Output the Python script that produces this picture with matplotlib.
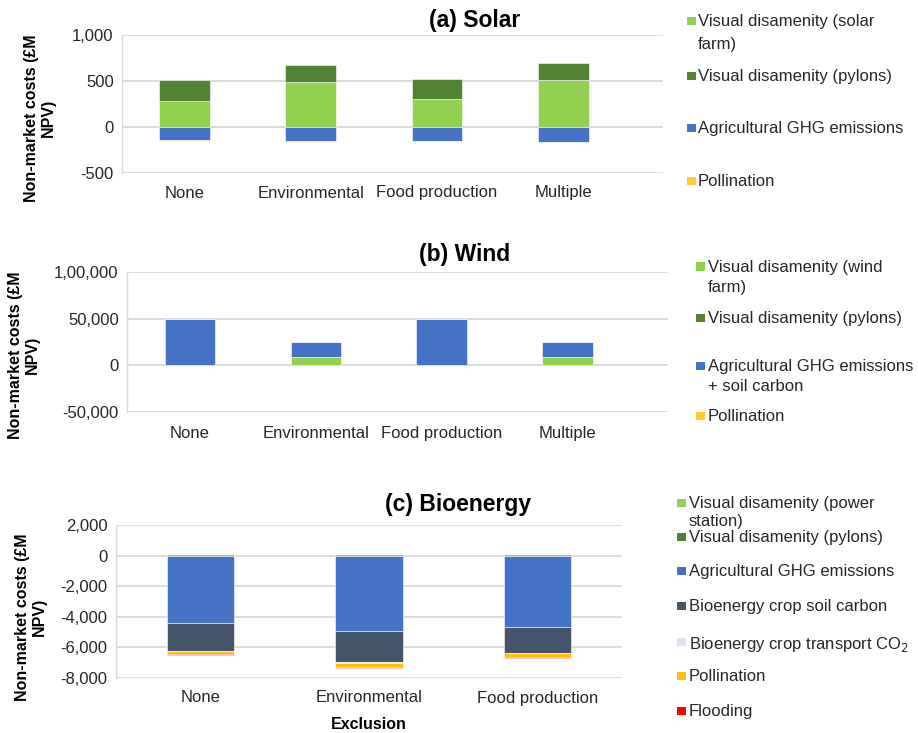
import numpy as np
import matplotlib.pyplot as plt
from matplotlib.patches import Rectangle

plt.rcParams['font.family'] = ['Liberation Sans', 'DejaVu Sans']

W, H = 918, 733

# colours used by the original Excel chart
c_vis = '#92D050'
c_pyl = '#548235'
c_agr = '#4472C4'
c_soil = '#44546A'
c_trans = '#DAE3F3'
c_pol = '#FFC000'
c_flood = '#FF0000'
txt_col = '#262626'

# (a) Solar, £M NPV
solar_cats = ['None', 'Environmental', 'Food production', 'Multiple']
solar_visual = [287, 486, 301, 507]
solar_pylons = [220, 184, 221, 189]
solar_agri = [-145, -155, -150, -158]
solar_poll = [-8, -5, -5, -8]
solar_ticks = [-500, 0, 500, 1000]
solar_ticklabels = ['-500', '0', '500', '1,000']

# (b) Wind, £M NPV
wind_cats = ['None', 'Environmental', 'Food production', 'Multiple']
wind_visual = [0, 8900, 0, 8800]
wind_pylons = [0, 0, 0, 0]
wind_agri = [49300, 15700, 49300, 15800]
wind_poll = [0, 0, 0, 0]
wind_ticks = [-50000, 0, 50000, 100000]
wind_ticklabels = ['-50,000', '0', '50,000', '1,00,000']

# (c) Bioenergy, £M NPV
bio_cats = ['None', 'Environmental', 'Food production']
bio_visual = [90, 90, 90]
bio_pylons = [10, 10, 10]
bio_agri = [-4435, -4930, -4650]
bio_soil = [-1775, -2030, -1700]
bio_trans = [-30, -30, -30]
bio_poll = [-220, -270, -240]
bio_flood = [-60, -60, -60]
bio_ticks = [-8000, -6000, -4000, -2000, 0, 2000]
bio_ticklabels = ['-8,000', '-6,000', '-4,000', '-2,000', '0', '2,000']


def fx(px):
    return px / W


def fy(py):
    return 1 - py / H


def stacked(ax, cats, series, colors, width):
    x = np.arange(len(cats))
    pos = np.zeros(len(cats))
    neg = np.zeros(len(cats))
    for vals, col in zip(series, colors):
        vals = np.array(vals, dtype=float)
        bottom = np.where(vals >= 0, pos, neg)
        ax.bar(x, vals, width, bottom=bottom, color=col,
               edgecolor='white', linewidth=0.4, zorder=3)
        pos += np.clip(vals, 0, None)
        neg += np.clip(vals, None, 0)
    ax.set_xticks(x)
    ax.set_xticklabels(cats)


def style(ax, ticks, labels, xlim, pad_x):
    ax.set_ylim(ticks[0], ticks[-1])
    ax.set_yticks(ticks)
    ax.set_yticklabels(labels)
    ax.set_xlim(*xlim)
    ax.grid(axis='y', color='#D9D9D9', linewidth=1.3, zorder=0)
    for s in ['top', 'right', 'bottom']:
        ax.spines[s].set_visible(False)
    ax.spines['left'].set_color('#D9D9D9')
    ax.spines['left'].set_linewidth(1.0)
    ax.tick_params(length=0, labelsize=12, labelcolor=txt_col)
    ax.tick_params(axis='y', pad=6)
    ax.tick_params(axis='x', pad=pad_x)


def legend(fig, entries, hx, tx, ls):
    # entries: (label, colour, y of first text line in px)
    for label, col, y in entries:
        fig.patches.append(Rectangle((fx(hx), fy(y + 3)), 8.5 / W, 8.5 / H,
                                     transform=fig.transFigure,
                                     facecolor=col, edgecolor='none'))
        fig.text(fx(tx), fy(y - 8), label, fontsize=12, color=txt_col,
                 va='top', ha='left', linespacing=ls)


def ylabel(fig, xc, yc):
    fig.text(fx(xc), fy(yc), 'Non-market costs (£M\nNPV)', rotation=90,
             fontsize=11.5, fontweight='bold', ha='center', va='center',
             multialignment='center', color='black', linespacing=1.15)


fig = plt.figure(figsize=(W / 100, H / 100), dpi=100)

# (a) Solar
ax1 = fig.add_axes([fx(122), fy(173), (663 - 122) / W, (173 - 35) / H])
stacked(ax1, solar_cats, [solar_visual, solar_pylons, solar_agri, solar_poll],
        [c_vis, c_pyl, c_agr, c_pol], 0.4)
style(ax1, solar_ticks, solar_ticklabels, (-0.495, 3.79), 9)
fig.text(fx(475), fy(20), '(a) Solar', fontsize=16.5, fontweight='bold',
         ha='center', va='center')
ylabel(fig, 40, 118)
legend(fig, [('Visual disamenity (solar\nfarm)', c_vis, 22),
             ('Visual disamenity (pylons)', c_pyl, 77),
             ('Agricultural GHG emissions', c_agr, 129),
             ('Pollination', '#FFCC33', 182)], 687, 698, 1.7)

# (b) Wind
ax2 = fig.add_axes([fx(127), fy(412), (668 - 127) / W, (412 - 272) / H])
stacked(ax2, wind_cats, [wind_visual, wind_pylons, wind_agri, wind_poll],
        [c_vis, c_pyl, c_agr, c_pol], 0.4)
style(ax2, wind_ticks, wind_ticklabels, (-0.5, 3.8), 10)
fig.text(fx(465), fy(255), '(b) Wind', fontsize=16.5, fontweight='bold',
         ha='center', va='center')
ylabel(fig, 24, 355)
legend(fig, [('Visual disamenity (wind\nfarm)', c_vis, 268),
             ('Visual disamenity (pylons)', c_pyl, 319),
             ('Agricultural GHG emissions\n+ soil carbon', c_agr, 367),
             ('Pollination', '#FFCC33', 417)], 696, 708, 1.45)

# (c) Bioenergy
ax3 = fig.add_axes([fx(116), fy(678), (622 - 116) / W, (678 - 525) / H])
stacked(ax3, bio_cats,
        [bio_visual, bio_pylons, bio_agri, bio_soil, bio_trans, bio_poll, bio_flood],
        [c_vis, c_pyl, c_agr, c_soil, c_trans, c_pol, c_flood], 0.4)
style(ax3, bio_ticks, bio_ticklabels, (-0.5, 2.5), 9)
fig.text(fx(458), fy(505), '(c) Bioenergy', fontsize=16.5, fontweight='bold',
         ha='center', va='center')
ylabel(fig, 31, 617)
ax3.set_xlabel('Exclusion', fontsize=11.5, fontweight='bold', labelpad=8)
legend(fig, [('Visual disamenity (power\nstation)', c_vis, 504),
             ('Visual disamenity (pylons)', c_pyl, 538),
             ('Agricultural GHG emissions', c_agr, 572),
             ('Bioenergy crop soil carbon', c_soil, 607),
             ('Bioenergy crop transport CO$_2$', c_trans, 643),
             ('Pollination', c_pol, 677),
             ('Flooding', c_flood, 712)], 677, 689, 1.25)

fig.savefig('out.png', dpi=100)
